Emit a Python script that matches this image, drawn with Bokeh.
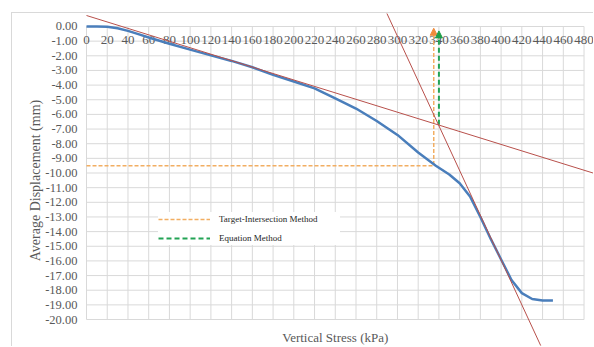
from bokeh.plotting import figure
from bokeh.models import (Range1d, FixedTicker, NumeralTickFormatter, Label, Legend,
                          LegendItem, Arrow, NormalHead, Title)
from bokeh.core.properties import value
from bokeh.embed import file_html
from bokeh.resources import INLINE

# Load-displacement curve
stress = [0, 10, 20, 30, 40, 50, 60, 80, 100, 120, 140, 160, 180, 200, 220, 240,
          260, 280, 300, 320, 337, 350, 360, 370, 380, 390, 400, 410, 420, 430, 440, 450]
displacement = [0, 0, -0.02, -0.12, -0.3, -0.52, -0.75, -1.18, -1.58, -1.97, -2.35, -2.78,
                -3.3, -3.75, -4.22, -4.9, -5.6, -6.45, -7.4, -8.6, -9.5, -10.1, -10.7,
                -11.6, -13.0, -14.5, -15.9, -17.3, -18.2, -18.6, -18.7, -18.7]

# Tangent lines (initial and post-yield branches)
early_tangent_x = [0, 490]
early_tangent_y = [0.75, -10.03]
late_tangent_x = [287.6, 438.2]
late_tangent_y = [1.23, -21.78]

# Target-intersection construction
target_x = [0, 335, 335]
target_y = [-9.5, -9.5, -0.58]
target_tip = -0.12

# Equation method construction
equation_x = [340, 340]
equation_y = [-6.7, -0.78]
equation_tip = -0.3

x_ticks = list(range(0, 481, 20))
x_tick_labels = [str(t) for t in x_ticks]
y_ticks = list(range(-20, 1))

SERIF = "Liberation Serif"
LABEL_GRAY = "#595959"
GRID = "#D9D9D9"

p = figure(width=582, height=334,
           x_range=Range1d(-5.8, 490.1), y_range=Range1d(-21.91, 0.887),
           output_backend="svg", toolbar_location=None, title=None,
           x_axis_location=None, y_axis_location="left",
           min_border_left=68, min_border_right=0, min_border_top=0, min_border_bottom=0)
p.margin = (12, 0, 0, 11)
p.styles = {"border-top": f"1px solid {GRID}", "border-left": f"1px solid {GRID}"}
p.outline_line_color = None
p.xgrid.visible = False
p.ygrid.visible = False
p.background_fill_color = "white"
p.border_fill_color = "white"

yax = p.yaxis[0]
yax.ticker = FixedTicker(ticks=y_ticks)
yax.formatter = NumeralTickFormatter(format="0.00")
yax.axis_line_color = None
yax.major_tick_line_color = None
yax.minor_tick_line_color = None
yax.major_tick_out = 0
yax.major_tick_in = 0
yax.major_label_standoff = 3
yax.major_label_text_font = SERIF
yax.major_label_text_font_size = "12.5px"
yax.major_label_text_color = LABEL_GRAY

# Vertical axis title, centred on the -20..0 panel
p.add_layout(Title(text="Average Displacement (mm)", align="center", offset=8, standoff=0,
                   text_font=SERIF, text_font_size="14px", text_font_style="normal",
                   text_color=LABEL_GRAY), "left")

# Grid confined to the 0..480 kPa / -20..0 mm panel
p.segment(x0=x_ticks, y0=min(y_ticks), x1=x_ticks, y1=max(y_ticks),
          line_color=GRID, line_width=1)
p.segment(x0=min(x_ticks), y0=y_ticks, x1=max(x_ticks), y1=y_ticks,
          line_color=GRID, line_width=1)

# Stress tick labels sit just under the zero-displacement line
p.text(x=x_ticks, y=[-0.95] * len(x_ticks), text=x_tick_labels,
       text_align="center", text_baseline="middle",
       text_font=value(SERIF), text_font_size="13px", text_color=LABEL_GRAY)

target_r = p.line(target_x, target_y, line_color="#F2AE62", line_width=1.5, line_dash="4 2")
equation_r = p.line(equation_x, equation_y, line_color="#22A355", line_width=2, line_dash="5 3")

p.line(stress, displacement, line_color="#4A7EBB", line_width=2.5, line_join="round")

p.line(early_tangent_x, early_tangent_y, line_color="#B8504B", line_width=1)
p.line(late_tangent_x, late_tangent_y, line_color="#B8504B", line_width=1)

p.add_layout(Arrow(x_start=target_x[-1], y_start=target_y[-1], x_end=target_x[-1], y_end=target_tip,
                   line_alpha=0,
                   end=NormalHead(size=7, fill_color="#F08C3C", line_color="#F08C3C")))
p.add_layout(Arrow(x_start=equation_x[-1], y_start=equation_y[-1], x_end=equation_x[-1], y_end=equation_tip,
                   line_alpha=0,
                   end=NormalHead(size=7, fill_color="#1E9E4A", line_color="#1E9E4A")))

legend = Legend(items=[LegendItem(label="Target-Intersection Method", renderers=[target_r]),
                       LegendItem(label="Equation Method", renderers=[equation_r])],
                location=(78, 102), margin=0, padding=11, spacing=5,
                glyph_width=52, glyph_height=14, label_height=14, label_width=121,
                label_standoff=9, label_text_font=SERIF, label_text_font_size="9px",
                label_text_color="#262626", border_line_color=None,
                background_fill_color="white", background_fill_alpha=1)
p.add_layout(legend)

p.add_layout(Label(x=240, y=-21.23, text="Vertical Stress (kPa)",
                   text_align="center", text_baseline="middle",
                   text_font=SERIF, text_font_size="13px", text_color=LABEL_GRAY))

open("out.html", "w").write(file_html(p, INLINE))
